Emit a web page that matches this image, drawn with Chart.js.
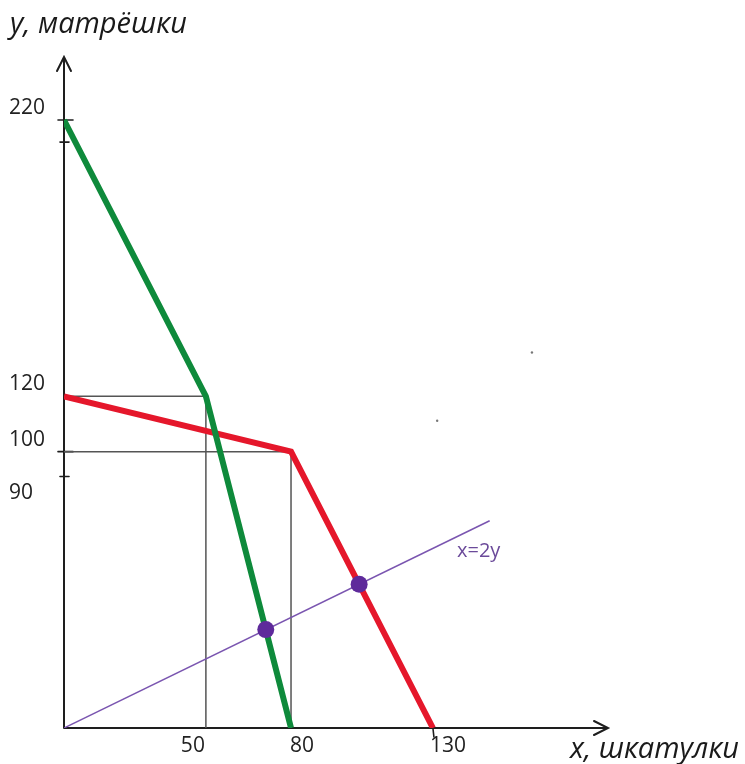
<!DOCTYPE html>
<html>
<head>
<meta charset="utf-8">
<script src="https://cdn.jsdelivr.net/npm/chart.js@4"></script>
<style>
html,body{margin:0;padding:0;background:#fff;}
#c{display:block;}
</style>
</head>
<body>
<canvas id="c" width="745" height="764"></canvas>
<script>
// ---- data ----
const greenX = [0, 50, 80];
const greenY = [220, 120, 0];
const redX = [0, 80, 130];
const redY = [120, 100, 0];
const rayX = [0, 150];
const rayY = [0, 75];
const dotX = [71.1, 104];
const dotY = [35.6, 52];
const guideAX = [0, 50, 50];
const guideAY = [120, 120, 0];
const guideBX = [-2, 80, 80];
const guideBY = [100, 100, 0];
const speckX = [164.9, 131.5];
const speckY = [135.9, 111.2];
const xTicks = [50, 80, 130];
const yTicks = [220, 120, 100, 90];
const yTickMarks = [220, 212, 100, 91];
const xAxisTitle = 'x, шкатулки';
const yAxisTitle = 'y, матрёшки';
const rayLabel = 'x=2y';

const pts = (xs, ys) => xs.map((x, i) => ({x: x, y: ys[i]}));

const axesPlugin = {
  id: 'axesPlugin',
  beforeDatasetsDraw(chart) {
    const ctx = chart.ctx, xs = chart.scales.x, ys = chart.scales.y;
    const x0 = xs.getPixelForValue(0), y0 = ys.getPixelForValue(0);
    const top = chart.chartArea.top, right = chart.chartArea.right;
    ctx.save();
    ctx.strokeStyle = '#1e1e1e';
    ctx.lineWidth = 2;
    ctx.lineCap = 'round';
    ctx.beginPath();
    ctx.moveTo(x0, y0); ctx.lineTo(x0, top);
    ctx.moveTo(x0 - 7, top + 14); ctx.lineTo(x0, top); ctx.lineTo(x0 + 7, top + 14);
    ctx.moveTo(x0, y0); ctx.lineTo(right, y0);
    ctx.moveTo(right - 14, y0 - 7); ctx.lineTo(right, y0); ctx.lineTo(right - 14, y0 + 7);
    ctx.stroke();
    ctx.lineWidth = 1.6;
    yTickMarks.forEach((v, i) => {
      const p = ys.getPixelForValue(v);
      const w = (i % 2 === 0) ? [6, 9] : [4, 5];
      ctx.beginPath(); ctx.moveTo(x0 - w[0], p); ctx.lineTo(x0 + w[1], p); ctx.stroke();
    });
    const px = xs.getPixelForValue(xTicks[2]);
    ctx.beginPath(); ctx.moveTo(px, y0); ctx.lineTo(px + 1, y0 + 9); ctx.stroke();
    ctx.restore();
  },
  afterDatasetsDraw(chart) {
    const ctx = chart.ctx, xs = chart.scales.x, ys = chart.scales.y;
    const y0 = ys.getPixelForValue(0);
    ctx.save();
    ctx.fillStyle = '#222222';
    ctx.font = '21px "Open Sans", "Liberation Sans", sans-serif';
    ctx.textBaseline = 'middle';
    const xAlign = ['right', 'left', 'left'];
    const xShift = [-1, -1, -3];
    xTicks.forEach((v, i) => {
      ctx.textAlign = xAlign[i];
      ctx.fillText(String(v), xs.getPixelForValue(v) + xShift[i], y0 + 18);
    });
    const yShift = [-12, -12, -12, 14];
    ctx.textAlign = 'left';
    yTicks.forEach((v, i) => {
      ctx.fillText(String(v), 9, ys.getPixelForValue(v) + yShift[i]);
    });
    ctx.fillStyle = '#6b4a9a';
    ctx.font = '20px "Open Sans", "Liberation Sans", sans-serif';
    ctx.fillText(rayLabel, 457, 551);
    ctx.fillStyle = '#1a1a1a';
    ctx.font = 'italic 29px "Open Sans", "Liberation Sans", sans-serif';
    ctx.textAlign = 'left';
    ctx.fillText(yAxisTitle, 10, 25);
    ctx.fillText(xAxisTitle, 570, 750);
    ctx.restore();
  }
};

new Chart(document.getElementById('c'), {
  type: 'scatter',
  data: {
    datasets: [
      { label: 'dots', data: pts(dotX, dotY), showLine: false, pointRadius: 8.5, pointBackgroundColor: '#5e2a9b', pointBorderColor: '#5e2a9b', pointBorderWidth: 0, order: 0 },
      { label: 'green', data: pts(greenX, greenY), showLine: true, borderColor: '#0e8a3b', borderWidth: 6, pointRadius: 0, order: 1 },
      { label: 'red', data: pts(redX, redY), showLine: true, borderColor: '#e5172b', borderWidth: 6, pointRadius: 0, order: 2 },
      { label: 'ray', data: pts(rayX, rayY), showLine: true, borderColor: '#7a55b0', borderWidth: 1.5, pointRadius: 0, order: 3 },
      { label: 'guideA', data: pts(guideAX, guideAY), showLine: true, borderColor: '#555555', borderWidth: 1.5, pointRadius: 0, order: 4 },
      { label: 'guideB', data: pts(guideBX, guideBY), showLine: true, borderColor: '#555555', borderWidth: 1.5, pointRadius: 0, order: 5 },
      { label: 'specks', data: pts(speckX, speckY), showLine: false, pointRadius: 1.2, pointBackgroundColor: '#777', pointBorderWidth: 0, order: 6 }
    ]
  },
  options: {
    responsive: false,
    animation: false,
    devicePixelRatio: 1,
    layout: { padding: { left: 64, right: 137, top: 57, bottom: 36 } },
    plugins: { legend: { display: false }, tooltip: { enabled: false } },
    scales: {
      x: { type: 'linear', display: false, min: 0, max: 191.7 },
      y: { type: 'linear', display: false, min: 0, max: 242.8 }
    }
  },
  plugins: [axesPlugin]
});
</script>
</body>
</html>
